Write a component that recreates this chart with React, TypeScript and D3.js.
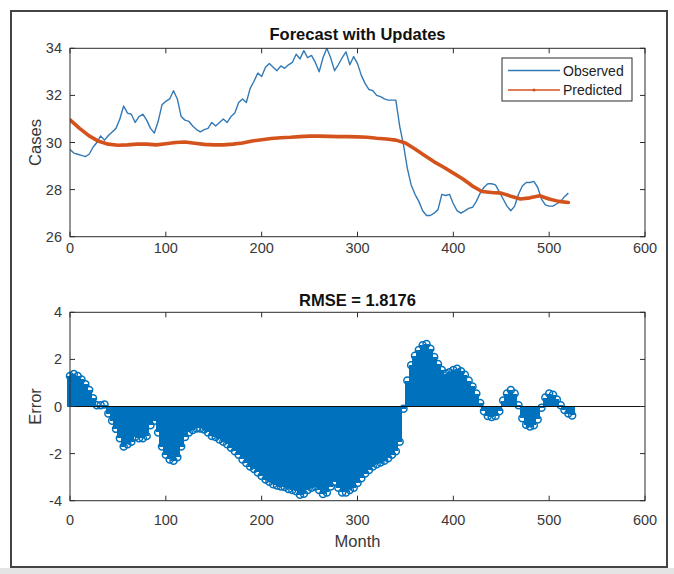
import React from "react";
import * as d3 from "d3";

// ---------- data ----------
const obsStep = 4; // months between observed samples
const observed = [
  29.7, 29.55, 29.5, 29.45, 29.4, 29.5, 29.8, 30.0, 30.28, 30.1,
  30.3, 30.45, 30.6, 31.0, 31.55, 31.25, 31.2, 30.85, 31.1, 31.2,
  30.95, 30.6, 30.4, 30.9, 31.6, 31.75, 31.85, 32.2, 31.85, 31.1,
  30.95, 30.9, 30.7, 30.55, 30.45, 30.55, 30.6, 30.85, 30.7, 30.85,
  31.0, 30.85, 31.1, 31.25, 31.7, 31.85, 31.7, 32.3, 32.6, 32.95,
  32.8, 33.2, 33.35, 33.2, 33.05, 33.25, 33.15, 33.3, 33.4, 33.75,
  33.55, 33.9, 33.6, 33.7, 33.4, 33.0, 33.6, 34.0, 33.6, 33.05,
  33.3, 33.6, 33.85, 33.3, 33.65, 33.35, 32.85, 32.5, 32.25, 32.2,
  32.0, 31.95, 31.85, 31.8, 31.8, 31.8, 30.7, 29.9, 28.9, 28.2,
  27.8, 27.5, 27.1, 26.9, 26.9, 27.0, 27.15, 27.8, 27.75, 27.8,
  27.4, 27.1, 27.0, 27.1, 27.2, 27.25, 27.5, 27.85, 28.1, 28.25,
  28.25, 28.2, 27.9, 27.6, 27.3, 27.1, 27.3, 27.8, 28.15, 28.3,
  28.3, 28.35, 28.1, 27.6, 27.35, 27.3, 27.3, 27.4, 27.5, 27.7,
  27.85,
];

const predStep = 10;
const predicted = [
  30.96, 30.6, 30.28, 30.05, 29.93, 29.88, 29.9, 29.93, 29.93, 29.9,
  29.95, 30.0, 30.02, 29.97, 29.92, 29.9, 29.9, 29.93, 29.98, 30.06,
  30.12, 30.17, 30.2, 30.22, 30.25, 30.27, 30.27, 30.26, 30.25, 30.25,
  30.24, 30.22, 30.18, 30.15, 30.1, 29.98, 29.72, 29.45, 29.18, 28.95,
  28.7, 28.45, 28.15, 27.92, 27.88, 27.85, 27.72, 27.6, 27.65, 27.74,
  27.6, 27.5, 27.45,
];

const errStep = 4;
const errorVals = [
  1.3, 1.38, 1.3, 1.15, 0.95, 0.7, 0.35, 0.05, 0.05, 0.08,
  -0.3, -0.6, -0.95, -1.35, -1.7, -1.6, -1.5, -1.3, -1.35, -1.35,
  -1.25, -0.8, -0.6, -1.1, -1.7, -2.05, -2.25, -2.3, -2.15, -1.7,
  -1.3, -1.1, -1.0, -0.93, -0.93, -0.98, -1.1, -1.25, -1.3, -1.4,
  -1.5, -1.6, -1.75, -1.9, -2.05, -2.25, -2.4, -2.55, -2.65, -2.8,
  -2.95, -3.1, -3.2, -3.3, -3.35, -3.4, -3.42, -3.5, -3.55, -3.6,
  -3.75, -3.7, -3.55, -3.45, -3.4, -3.55, -3.72, -3.65, -3.4, -3.2,
  -3.45, -3.65, -3.65, -3.55, -3.45, -3.25, -3.05, -2.85, -2.7, -2.55,
  -2.45, -2.38, -2.3, -2.2, -2.05, -1.9, -1.5, -0.1, 1.1, 1.75,
  2.15, 2.4, 2.6, 2.65, 2.45, 2.1, 1.8, 1.55, 1.4, 1.45,
  1.55, 1.6, 1.5, 1.35, 1.1, 0.85, 0.55, 0.15, -0.2, -0.4,
  -0.45, -0.4, -0.2, 0.25, 0.55, 0.7, 0.55, 0.05, -0.5, -0.78,
  -0.85, -0.8, -0.55, -0.05, 0.38, 0.55, 0.5, 0.3, 0.05, -0.15,
  -0.3, -0.38,
];

const xTicks = [0, 100, 200, 300, 400, 500, 600];
const yTicksTop = [26, 28, 30, 32, 34];
const yTicksBottom = [-4, -2, 0, 2, 4];

const titleTop = "Forecast with Updates";
const titleBottom = "RMSE = 1.8176";
const yLabelTop = "Cases";
const yLabelBottom = "Error";
const xLabel = "Month";
const legendLabels = ["Observed", "Predicted"];

// ---------- styles ----------
const BLUE = "#0072BD";
const OBS = "#3279b5";
const ORANGE = "#D4531C";
const AX = "#2b2b2b";
const FONT = "'Liberation Sans', Arial, Helvetica, sans-serif";

const W = 674;
const H = 574;

export default function App() {
  const x = d3.scaleLinear().domain([0, 600]).range([70, 645]);
  const yTop = d3.scaleLinear().domain([26, 34]).range([236.7, 48.3]);
  const yBot = d3.scaleLinear().domain([-4, 4]).range([500.7, 312.3]);

  const obsLine = d3
    .line<number>()
    .x((_, i) => x(i * obsStep))
    .y((d) => yTop(d));
  const predLine = d3
    .line<number>()
    .x((_, i) => x(i * predStep))
    .y((d) => yTop(d));

  const stemW = x(errStep) - x(0) + 1.2;

  const axisBox = (y: d3.ScaleLinear<number, number>, yt: number[], labelY: number) => {
    const [y0, y1] = y.range();
    const x0 = x.range()[0];
    const x1 = x.range()[1];
    const tl = 5;
    return (
      <g>
        <rect x={x0} y={y1} width={x1 - x0} height={y0 - y1} fill="none" stroke={AX} strokeWidth={1} />
        {xTicks.map((t) => (
          <g key={"xt" + t}>
            <line x1={x(t)} x2={x(t)} y1={y0} y2={y0 - tl} stroke={AX} strokeWidth={1} />
            <line x1={x(t)} x2={x(t)} y1={y1} y2={y1 + tl} stroke={AX} strokeWidth={1} />
            <text x={x(t)} y={labelY} textAnchor="middle" dominantBaseline="central" fontSize={14.5} fill="#383838" fontFamily={FONT}>
              {t}
            </text>
          </g>
        ))}
        {yt.map((t) => (
          <g key={"yt" + t}>
            <line x1={x0} x2={x0 + tl} y1={y(t)} y2={y(t)} stroke={AX} strokeWidth={1} />
            <line x1={x1} x2={x1 - tl} y1={y(t)} y2={y(t)} stroke={AX} strokeWidth={1} />
            <text x={x0 - 8} y={y(t)} textAnchor="end" dominantBaseline="central" fontSize={14.5} fill="#383838" fontFamily={FONT}>
              {t}
            </text>
          </g>
        ))}
      </g>
    );
  };

  const cx = (x.range()[0] + x.range()[1]) / 2;

  return (
    <div style={{ position: "absolute", left: 0, top: 0 }}>
      <svg width={W} height={H} style={{ display: "block", background: "#fff" }}>
        <defs>
          <clipPath id="clipTop">
            <rect x={70} y={48.3} width={575} height={188.4} />
          </clipPath>
        </defs>
        {/* figure frame */}
        <rect x={0} y={568} width={W} height={6} fill="#e4e4e4" />
        <rect x={11} y={11} width={656} height={556} fill="none" stroke="#444" strokeWidth={2} />

        {/* ---- top subplot ---- */}
        <g clipPath="url(#clipTop)">
          <path d={obsLine(observed) || ""} fill="none" stroke={OBS} strokeWidth={1.4} strokeLinejoin="round" />
          <path d={predLine(predicted) || ""} fill="none" stroke={ORANGE} strokeWidth={3.6} strokeLinejoin="round" strokeLinecap="round" />
        </g>
        {axisBox(yTop, yTicksTop, 248)}
        <text x={cx} y={34} textAnchor="middle" dominantBaseline="central" fontSize={16.5} fontWeight="bold" fill="#111" fontFamily={FONT}>
          {titleTop}
        </text>
        <text transform={`translate(35,${yTop(30)}) rotate(-90)`} textAnchor="middle" dominantBaseline="central" fontSize={16.5} fill="#383838" fontFamily={FONT}>
          {yLabelTop}
        </text>

        {/* legend */}
        <g>
          <rect x={502} y={58} width={130} height={43} fill="#fff" stroke={AX} strokeWidth={1} />
          <line x1={508} x2={560} y1={70.5} y2={70.5} stroke={OBS} strokeWidth={1.3} />
          <text x={563} y={70.5} dominantBaseline="central" fontSize={14} fill="#222" fontFamily={FONT}>
            {legendLabels[0]}
          </text>
          <line x1={508} x2={560} y1={90} y2={90} stroke={ORANGE} strokeWidth={1.3} />
          <circle cx={534} cy={90} r={1.6} fill={ORANGE} />
          <text x={563} y={90} dominantBaseline="central" fontSize={14} fill="#222" fontFamily={FONT}>
            {legendLabels[1]}
          </text>
        </g>

        {/* ---- bottom subplot ---- */}
        <g>
          {errorVals.map((v, i) => (
            <line key={"s" + i} x1={x(i * errStep)} x2={x(i * errStep)} y1={yBot(0)} y2={yBot(v)} stroke={BLUE} strokeWidth={stemW} shapeRendering="crispEdges" />
          ))}
          {errorVals.map((v, i) => (
            <circle key={"c" + i} cx={x(i * errStep)} cy={yBot(v)} r={3.5} fill="none" stroke={BLUE} strokeWidth={1.5} />
          ))}
          <line x1={x.range()[0]} x2={x.range()[1]} y1={yBot(0)} y2={yBot(0)} stroke="#111" strokeWidth={1.1} />
        </g>
        {axisBox(yBot, yTicksBottom, 520)}
        <text x={cx} y={300} textAnchor="middle" dominantBaseline="central" fontSize={16.5} fontWeight="bold" fill="#111" fontFamily={FONT}>
          {titleBottom}
        </text>
        <text transform={`translate(35,${yBot(0)}) rotate(-90)`} textAnchor="middle" dominantBaseline="central" fontSize={16.5} fill="#383838" fontFamily={FONT}>
          {yLabelBottom}
        </text>
        <text x={cx} y={541} textAnchor="middle" dominantBaseline="central" fontSize={16.5} fill="#383838" fontFamily={FONT}>
          {xLabel}
        </text>
      </svg>
    </div>
  );
}
